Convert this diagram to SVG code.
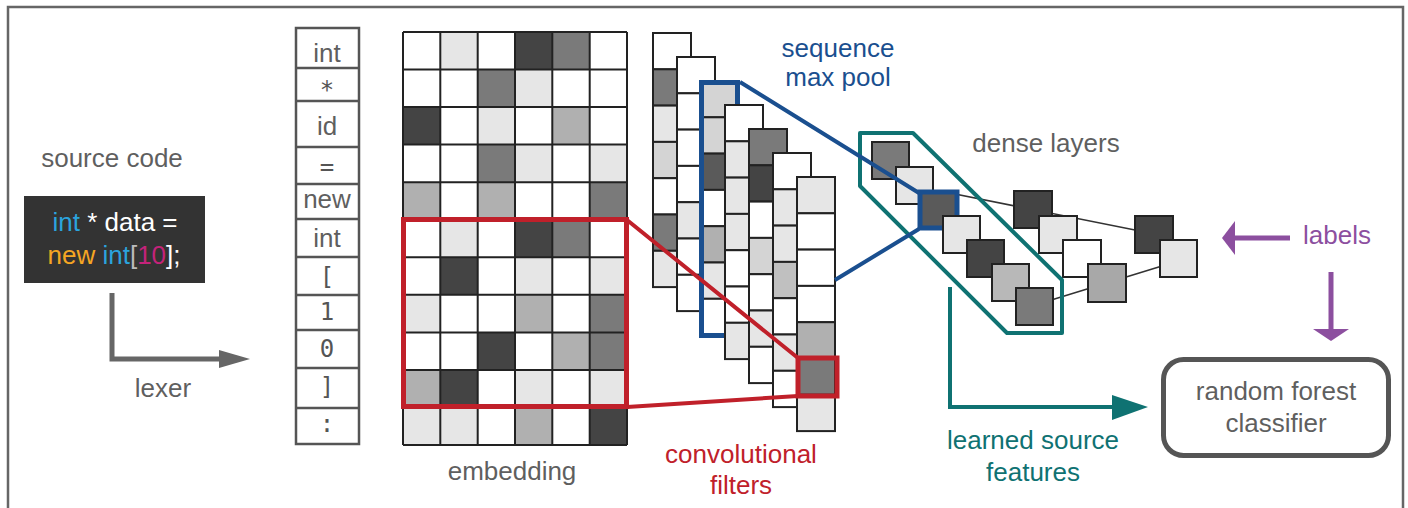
<svg xmlns="http://www.w3.org/2000/svg" width="1408" height="508" viewBox="0 0 1408 508">
<style>
.t{font-family:"Liberation Sans",Arial,sans-serif;font-size:26px;text-anchor:middle;fill:#5f5f5f}
.m{font-family:"DejaVu Sans Mono","Liberation Mono",monospace;font-size:24px;text-anchor:middle;fill:#555}
.c{stroke:#222;stroke-width:2}
.W{fill:#fff}.L{fill:#e6e6e6}.L2{fill:#d4d4d4}.G{fill:#b0b0b0}.G2{fill:#c0c0c0}.M{fill:#7a7a7a}.D{fill:#444}.D2{fill:#5a5a5a}
.blue{fill:#1a4f8f}.red{fill:#c0202a}.teal{fill:#0f7272}.pur{fill:#8c4f9f}
</style>
<rect x="8" y="7" width="1395" height="520" fill="none" stroke="#666" stroke-width="2.5"/>

<g id="source-code">
<text class="t" x="112" y="167">source code</text>
<rect x="24" y="196" width="181" height="87" fill="#333"/>
<text class="t" x="115" y="231"><tspan fill="#2ba3dd">int</tspan><tspan fill="#fff"> * data =</tspan></text>
<text class="t" x="114" y="264"><tspan fill="#f5a623">new </tspan><tspan fill="#2ba3dd">int</tspan><tspan fill="#bbb">[</tspan><tspan fill="#c4237a">10</tspan><tspan fill="#fff">];</tspan></text>
</g>

<g id="tokens">
<rect x="296" y="28" width="63" height="416" fill="#fff" stroke="#555" stroke-width="2.5"/>
<path d="M296 68H359M296 101H359M296 147H359M296 184H359M296 219H359M296 257H359M296 295H359M296 330H359M296 368H359M296 408H359" stroke="#555" stroke-width="2.5"/>
<text class="t" x="327" y="62">int</text>
<text class="m" x="327" y="98">*</text>
<text class="t" x="327" y="135">id</text>
<text class="m" x="327" y="175">=</text>
<text class="t" x="327" y="208">new</text>
<text class="t" x="327" y="247">int</text>
<text class="m" x="327" y="285">[</text>
<text class="m" x="327" y="320">1</text>
<text class="m" x="327" y="357">0</text>
<text class="m" x="327" y="395">]</text>
<text class="m" x="327" y="432">:</text>
</g>

<g id="embedding">
<rect x="403" y="32" width="224" height="413" fill="#fff"/>
<g>
<rect class="L" x="440.3" y="32" width="37.3" height="37.5"/><rect class="D" x="515" y="32" width="37.3" height="37.5"/><rect class="M" x="552.3" y="32" width="37.3" height="37.5"/>
<rect class="M" x="477.7" y="69.5" width="37.3" height="37.5"/><rect class="L" x="515" y="69.5" width="37.3" height="37.5"/>
<rect class="D" x="403" y="107.1" width="37.3" height="37.5"/><rect class="L" x="477.7" y="107.1" width="37.3" height="37.5"/><rect class="G" x="552.3" y="107.1" width="37.3" height="37.5"/>
<rect class="M" x="477.7" y="144.6" width="37.3" height="37.5"/><rect class="L" x="515" y="144.6" width="37.3" height="37.5"/><rect class="L" x="589.7" y="144.6" width="37.3" height="37.5"/>
<rect class="G" x="403" y="182.2" width="37.3" height="37.5"/><rect class="G" x="477.7" y="182.2" width="37.3" height="37.5"/><rect class="M" x="589.7" y="182.2" width="37.3" height="37.5"/>
<rect class="L" x="440.3" y="219.7" width="37.3" height="37.5"/><rect class="D" x="515" y="219.7" width="37.3" height="37.5"/><rect class="M" x="552.3" y="219.7" width="37.3" height="37.5"/>
<rect class="D" x="440.3" y="257.3" width="37.3" height="37.5"/><rect class="L" x="515" y="257.3" width="37.3" height="37.5"/><rect class="L" x="589.7" y="257.3" width="37.3" height="37.5"/>
<rect class="L" x="403" y="294.8" width="37.3" height="37.5"/><rect class="G" x="515" y="294.8" width="37.3" height="37.5"/><rect class="M" x="589.7" y="294.8" width="37.3" height="37.5"/>
<rect class="D" x="477.7" y="332.4" width="37.3" height="37.5"/><rect class="G" x="552.3" y="332.4" width="37.3" height="37.5"/><rect class="M" x="589.7" y="332.4" width="37.3" height="37.5"/>
<rect class="G" x="403" y="369.9" width="37.3" height="37.5"/><rect class="D" x="440.3" y="369.9" width="37.3" height="37.5"/><rect class="L" x="515" y="369.9" width="37.3" height="37.5"/><rect class="L" x="589.7" y="369.9" width="37.3" height="37.5"/>
<rect class="L" x="403" y="407.5" width="37.3" height="37.5"/><rect class="L" x="440.3" y="407.5" width="37.3" height="37.5"/><rect class="G" x="515" y="407.5" width="37.3" height="37.5"/><rect class="D" x="589.7" y="407.5" width="37.3" height="37.5"/>
</g>
<path d="M403 32V445M440.3 32V445M477.7 32V445M515 32V445M552.3 32V445M589.7 32V445M627 32V445M403 32H627M403 69.5H627M403 107.1H627M403 144.6H627M403 182.2H627M403 219.7H627M403 257.3H627M403 294.8H627M403 332.4H627M403 369.9H627M403 407.5H627M403 445H627" stroke="#222" stroke-width="2" fill="none"/>
<text class="t" x="512" y="480">embedding</text>
</g>

<g id="conv-filters">
<g transform="translate(653,33)"><rect class="c W" y="0" width="38" height="36.3"/><rect class="c M" y="36.3" width="38" height="36.3"/><rect class="c L" y="72.6" width="38" height="36.3"/><rect class="c L2" y="108.9" width="38" height="36.3"/><rect class="c W" y="145.2" width="38" height="36.3"/><rect class="c M" y="181.5" width="38" height="36.3"/><rect class="c L" y="217.8" width="38" height="36.3"/></g>
<g transform="translate(677,57)"><rect class="c W" y="0" width="38" height="36.3"/><rect class="c W" y="36.3" width="38" height="36.3"/><rect class="c W" y="72.6" width="38" height="36.3"/><rect class="c W" y="108.9" width="38" height="36.3"/><rect class="c L" y="145.2" width="38" height="36.3"/><rect class="c W" y="181.5" width="38" height="36.3"/><rect class="c W" y="217.8" width="38" height="36.3"/></g>
<g transform="translate(701,81)"><rect class="c L2" y="0" width="38" height="36.3"/><rect class="c L2" y="36.3" width="38" height="36.3"/><rect class="c D2" y="72.6" width="38" height="36.3"/><rect class="c W" y="108.9" width="38" height="36.3"/><rect class="c G" y="145.2" width="38" height="36.3"/><rect class="c L" y="181.5" width="38" height="36.3"/><rect class="c W" y="217.8" width="38" height="36.3"/></g>
<rect x="701.5" y="82.5" width="36" height="253" fill="none" stroke="#1a4f8f" stroke-width="5"/>
<g transform="translate(725,105)"><rect class="c W" y="0" width="38" height="36.3"/><rect class="c L" y="36.3" width="38" height="36.3"/><rect class="c L" y="72.6" width="38" height="36.3"/><rect class="c L" y="108.9" width="38" height="36.3"/><rect class="c W" y="145.2" width="38" height="36.3"/><rect class="c W" y="181.5" width="38" height="36.3"/><rect class="c L" y="217.8" width="38" height="36.3"/></g>
<g transform="translate(749,129)"><rect class="c M" y="0" width="38" height="36.3"/><rect class="c D" y="36.3" width="38" height="36.3"/><rect class="c W" y="72.6" width="38" height="36.3"/><rect class="c L2" y="108.9" width="38" height="36.3"/><rect class="c W" y="145.2" width="38" height="36.3"/><rect class="c L" y="181.5" width="38" height="36.3"/><rect class="c W" y="217.8" width="38" height="36.3"/></g>
<g transform="translate(773,153)"><rect class="c W" y="0" width="38" height="36.3"/><rect class="c L" y="36.3" width="38" height="36.3"/><rect class="c L" y="72.6" width="38" height="36.3"/><rect class="c G2" y="108.9" width="38" height="36.3"/><rect class="c W" y="145.2" width="38" height="36.3"/><rect class="c L" y="181.5" width="38" height="36.3"/><rect class="c W" y="217.8" width="38" height="36.3"/></g>
<g transform="translate(797,177)"><rect class="c L" y="0" width="38" height="36.3"/><rect class="c W" y="36.3" width="38" height="36.3"/><rect class="c W" y="72.6" width="38" height="36.3"/><rect class="c W" y="108.9" width="38" height="36.3"/><rect class="c G" y="145.2" width="38" height="36.3"/><rect class="c M" y="181.5" width="38" height="36.3"/><rect class="c L" y="217.8" width="38" height="36.3"/></g>
<text class="t" x="741" y="463" style="fill:#c0202a">convolutional</text>
<text class="t" x="741" y="494" style="fill:#c0202a">filters</text>
</g>

<g id="dense-layers">
<path d="M940 191L1150 233M1035 305L1175 262" stroke="#333" stroke-width="1.6" fill="none"/>
<rect class="c M" x="872" y="142" width="37" height="37"/>
<rect class="c L" x="896" y="167" width="37" height="37"/>
<rect x="920" y="192" width="37" height="36" fill="#5a5a5a" stroke="#1a4f8f" stroke-width="5"/>
<rect class="c L" x="943" y="216" width="37" height="37"/>
<rect class="c D" x="967" y="240" width="37" height="37"/>
<rect class="c" x="992" y="264" width="37" height="37" fill="#b8b8b8"/>
<rect class="c M" x="1016" y="288" width="37" height="37"/>
<rect class="c D" x="1014" y="191" width="38" height="37"/>
<rect class="c L" x="1039" y="216" width="38" height="37"/>
<rect class="c W" x="1063" y="240" width="38" height="37"/>
<rect class="c" x="1088" y="264" width="38" height="38" fill="#a8a8a8"/>
<rect class="c D" x="1135" y="216" width="38" height="37"/>
<rect class="c L" x="1160" y="240" width="37" height="37"/>
<polygon points="860,133 913,133 1062,280 1062,333 1007,333 860,186" fill="none" stroke="#0f7272" stroke-width="4" stroke-linejoin="round"/>
<text class="t" x="1046" y="152">dense layers</text>
<text class="t" x="1033" y="449" style="fill:#0f7272">learned source</text>
<text class="t" x="1033" y="481" style="fill:#0f7272">features</text>
</g>

<g id="random-forest">
<rect x="1163.5" y="359.5" width="225" height="96" rx="20" fill="#fff" stroke="#555" stroke-width="5"/>
<text class="t" x="1276" y="400">random forest</text>
<text class="t" x="1276" y="432">classifier</text>
</g>

<g id="labels">
<text class="t" x="1337" y="244" style="fill:#8c4f9f">labels</text>
</g>

<g id="connectors">
<text class="t" x="163" y="397">lexer</text>
<polyline points="112,293 112,359 222,359" fill="none" stroke="#666" stroke-width="5"/>
<polygon points="219,350 250,359 219,368" fill="#666"/>
<path d="M627 220L798 358M627 407L798 396" stroke="#c0202a" stroke-width="4" fill="none"/>
<rect x="403.5" y="219.5" width="223" height="187" fill="none" stroke="#c0202a" stroke-width="5"/>
<rect x="798" y="358" width="39" height="38" fill="none" stroke="#c0202a" stroke-width="5"/>
<path d="M740 82L919 193M835 280L919 229" stroke="#1a4f8f" stroke-width="4" fill="none"/>
<text class="t" x="838" y="57" style="fill:#1a4f8f">sequence</text>
<text class="t" x="838" y="86" style="fill:#1a4f8f">max pool</text>
<polyline points="950,287 950,407 1115,407" fill="none" stroke="#0f7272" stroke-width="4"/>
<polygon points="1112,395 1148,407 1112,420" fill="#0f7272"/>
<line x1="1233" y1="238" x2="1290" y2="238" stroke="#8c4f9f" stroke-width="5"/>
<polygon points="1222,238 1235,221 1235,255" fill="#8c4f9f"/>
<line x1="1331" y1="272" x2="1331" y2="331" stroke="#8c4f9f" stroke-width="5"/>
<polygon points="1313,329 1349,329 1331,341" fill="#8c4f9f"/>
</g>
</svg>
